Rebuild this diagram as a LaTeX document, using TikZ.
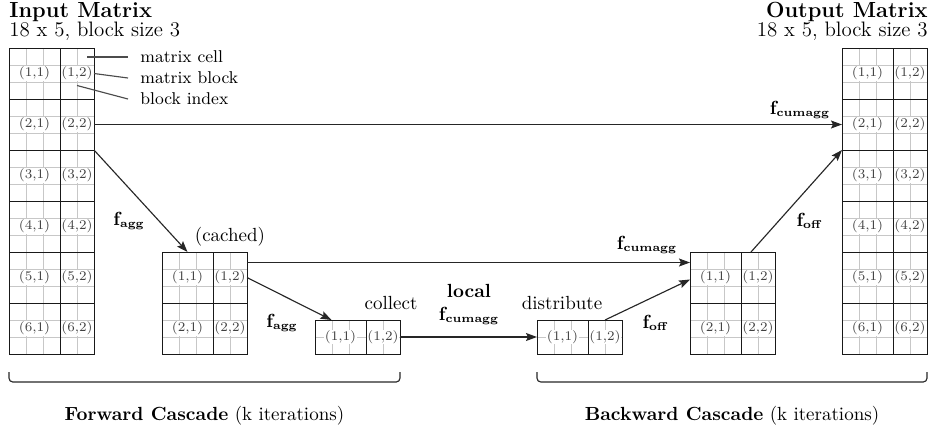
\documentclass[tikz,border=0pt]{standalone}
\usetikzlibrary{arrows.meta,calc}

% one drawing unit = one pixel of the 931 x 428 canvas, y grows downwards
\def\px{0.526pt}
\tikzset{
  x=0.526pt, y=-0.526pt,
  cellgrid/.style={draw=black!22, line width=0.4pt},
  blk/.style={draw=black!90, line width=0.5pt, inner sep=0pt, outer sep=0pt, anchor=north west},
  cellidx/.style={fill=white, inner sep=0.4pt, font=\scriptsize, text=black!75},
  flow/.style={draw=black!85, line width=0.6pt, -{Stealth[length=5.8pt,width=4.2pt,inset=1pt]}},
  leader/.style={draw=black!70, line width=0.6pt},
  opname/.style={inner sep=0pt},
  note/.style={font=\small, inner sep=0pt, anchor=west},
  plain/.style={inner sep=0pt},
  title/.style={inner sep=0pt, font=\fontsize{11.5}{14}\selectfont\bfseries},
  subtitle/.style={inner sep=0pt, font=\fontsize{11}{13}\selectfont},
  bracket/.style={draw=black!85, line width=0.6pt, rounded corners=2pt},
}

% operator name with a small bold subscript
\newcommand\opf[1]{$\mathbf{f}_{\hbox{\fontsize{6}{7}\selectfont\bfseries #1}}$}

% \blockmat{name}{left}{top}{block rows}{cell rows per block}
% five cell columns split into blocks of 3 and 2
\newcommand\blockmat[5]{%
  \pgfmathsetmacro\matH{#4*#5*17}%
  \pgfmathtruncatemacro\matN{#4*#5-1}%
  \foreach \gx in {17,34,68}{\draw[cellgrid] (#2+\gx,#3) -- (#2+\gx,#3+\matH);}
  \foreach \gy in {1,...,\matN}{\draw[cellgrid] (#2,#3+\gy*17) -- (#2+85,#3+\gy*17);}
  \foreach \r in {1,...,#4}{
    \node[blk, minimum width=51*\px, minimum height=#5*17*\px,
          label={[cellidx]center:{(\r,1)}}] (#1-\r-1) at (#2,{#3+(\r-1)*#5*17}) {};
    \node[blk, minimum width=34*\px, minimum height=#5*17*\px,
          label={[cellidx]center:{(\r,2)}}] (#1-\r-2) at (#2+51,{#3+(\r-1)*#5*17}) {};
  }
}

\begin{document}
\begin{tikzpicture}
\useasboundingbox (0,0) rectangle (931,428);

% matrices
\blockmat{in}{9}{48}{6}{3}
\blockmat{cache}{162}{252}{2}{3}
\blockmat{col}{315}{320}{1}{2}
\blockmat{dist}{537}{320}{1}{2}
\blockmat{back}{690}{252}{2}{3}
\blockmat{out}{842}{48}{6}{3}

% headings
\node[title, anchor=base west] (intitle) at (9,17) {Input Matrix};
\node[subtitle, anchor=base west] (insize) at (9,36) {18 x 5, block size 3};
\node[title, anchor=base east] (outtitle) at (928,17) {Output Matrix};
\node[subtitle, anchor=base east] (outsize) at (928,36) {18 x 5, block size 3};

% legend
\node[note] (ncell) at (140,57) {matrix cell};
\node[note] (nblock) at (140,78) {matrix block};
\node[note] (nidx) at (140,99) {block index};
\draw[leader] ($(in-1-2.north east)+(-7,9)$) -- ($(ncell.west)+(-12,0)$);
\draw[leader] (in-1-2.east) -- ($(nblock.west)+(-12,0)$);
\draw[leader] ($(in-1-2.center)+(0,12)$) -- ($(nidx.west)+(-12,0)$);

% direct cumulative aggregation
\draw[flow] (in-2-2.east) -- (out-2-1.west);
\node[opname] (fc1) at (800,110) {\opf{cumagg}};

% forward cascade
\draw[flow] (in-2-2.south east) -- (cache-1-1.north);
\node[opname] (fa1) at (129,221) {\opf{agg}};
\node[plain] (cachedlbl) at (230,237) {(cached)};
\draw[flow] (cache-1-2.east) -- ($(col-1-1.north)+(-9,0)$);
\node[opname] (fa2) at (282,323) {\opf{agg}};
\node[plain] (collectlbl) at (391,303) {collect};

% cached level to backward level
\draw[flow] ($(cache-1-2.north east)+(0,10.5)$) -- ($(back-1-1.north west)+(0,10.5)$);
\node[opname] (fc2) at (647,245) {\opf{cumagg}};

% local step
\draw[flow] (col-1-2.east) -- (dist-1-1.west);
\node[opname, font=\bfseries] (loc) at (469,291) {local};
\node[opname] (fc3) at (469,316) {\opf{cumagg}};
\node[plain] (distlbl) at (562,303) {distribute};

% backward cascade
\draw[flow] (dist-1-2.north) -- ($(back-1-1.west)+(0,2)$);
\node[opname] (fo1) at (655,323) {\opf{off}};
\draw[flow] ($(back-1-2.north)+(-7,0)$) -- (out-2-1.south west);
\node[opname] (fo2) at (809,221) {\opf{off}};

% cascade brackets and captions
\draw[bracket] ($(in-6-1.south west)+(0,18)$) -- ($(in-6-1.south west)+(0,28)$)
  -- ($(col-1-2.south east)+(0,28)$) -- ($(col-1-2.south east)+(0,18)$);
\draw[bracket] ($(dist-1-1.south west)+(0,18)$) -- ($(dist-1-1.south west)+(0,28)$)
  -- ($(out-6-2.south east)+(0,28)$) -- ($(out-6-2.south east)+(0,18)$);
\node[plain, anchor=base] (fwd) at ($($(in-6-1.south west)!0.5!(col-1-2.south east)$)+(0,66)$)
  {\textbf{Forward Cascade} (k iterations)};
\node[plain, anchor=base] (bwd) at ($($(dist-1-1.south west)!0.5!(out-6-2.south east)$)+(0,66)$)
  {\textbf{Backward Cascade} (k iterations)};
\end{tikzpicture}
\end{document}
